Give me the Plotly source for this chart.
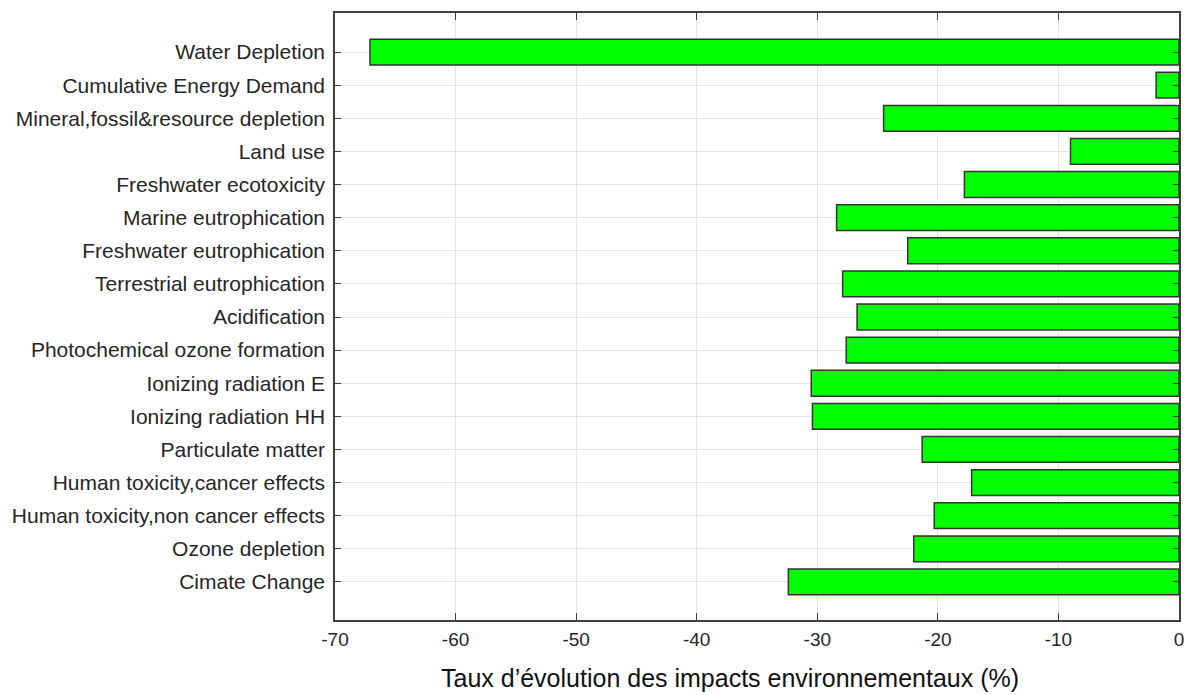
import plotly.graph_objects as go

# Categories listed bottom -> top
categories = [
    "Cimate Change",
    "Ozone depletion",
    "Human toxicity,non cancer effects",
    "Human toxicity,cancer effects",
    "Particulate matter",
    "Ionizing radiation HH",
    "Ionizing radiation E",
    "Photochemical ozone formation",
    "Acidification",
    "Terrestrial eutrophication",
    "Freshwater eutrophication",
    "Marine eutrophication",
    "Freshwater ecotoxicity",
    "Land use",
    "Mineral,fossil&resource depletion",
    "Cumulative Energy Demand",
    "Water Depletion",
]
values = [-32.4, -22.0, -20.3, -17.2, -21.3, -30.4, -30.5, -27.6, -26.7,
          -27.9, -22.5, -28.4, -17.8, -9.0, -24.5, -1.9, -67.1]
x_ticks = [-70, -60, -50, -40, -30, -20, -10, 0]
x_tick_labels = ["-70", "-60", "-50", "-40", "-30", "-20", "-10", "0"]
x_title = "Taux d’évolution des impacts environnementaux (%)"

fig = go.Figure(go.Bar(
    x=values, y=categories, orientation="h", width=0.78,
    marker=dict(color="#00ff00", line=dict(color="#333333", width=1.5)),
))

font = "Liberation Sans, Arial, sans-serif"
fig.update_layout(
    width=1187, height=695,
    margin=dict(l=335, r=8, t=13, b=75),
    paper_bgcolor="white", plot_bgcolor="white",
    showlegend=False,
    font=dict(family=font, color="#262626"),
    annotations=[dict(
        text=x_title, xref="paper", yref="paper", x=0.468, y=0,
        xanchor="center", yanchor="middle", yshift=-58, showarrow=False,
        font=dict(size=25, family=font, color="#111111"),
    )],
)
fig.update_xaxes(
    range=[-70, 0], tickvals=x_ticks, ticktext=x_tick_labels,
    automargin=False,
    showgrid=True, gridcolor="#e3e3e3", gridwidth=1,
    showline=True, linecolor="#404040", linewidth=1.5, mirror="ticks",
    ticks="inside", ticklen=7, tickcolor="#404040",
    ticklabelstandoff=1,
    tickfont=dict(size=19, family=font, color="#262626"),
    zeroline=False,
)
fig.update_yaxes(
    type="category", categoryorder="array", categoryarray=categories,
    range=[-1.15, 17.18], automargin=False,
    showgrid=True, gridcolor="#e3e3e3", gridwidth=1,
    showline=True, linecolor="#404040", linewidth=1.5, mirror="ticks",
    ticks="inside", ticklen=6, tickcolor="#404040",
    ticklabelstandoff=4,
    tickfont=dict(size=21, family=font, color="#262626"),
)

fig.write_html(
    "out.html",
    config={"displayModeBar": False},
    post_script="document.body.style.margin='0';document.body.style.overflow='hidden';",
)
